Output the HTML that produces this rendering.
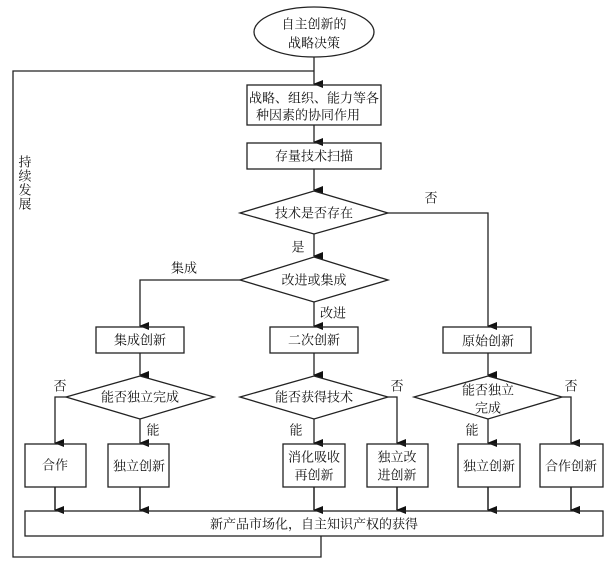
<!DOCTYPE html>
<html><head><meta charset="utf-8"><style>
html,body{margin:0;padding:0;background:#fff;}
svg{display:block;}
text{font-family:"Liberation Serif","Noto Serif CJK SC",serif;font-size:13px;fill:#111;text-anchor:middle;dominant-baseline:central;}
</style></head><body>
<svg width="607" height="564" viewBox="0 0 607 564" xmlns="http://www.w3.org/2000/svg">
<defs><marker id="a" markerWidth="8" markerHeight="10" refX="4" refY="9" orient="auto-start-reverse" markerUnits="userSpaceOnUse"><path d="M0,0 L8,0 L4,10 Z" fill="#111"/></marker></defs>
<g stroke="#222" stroke-width="1.3" fill="none">
<ellipse cx="314" cy="32" rx="60" ry="25" fill="#fff"/>
<path d="M314,57 V84" marker-end="url(#a)"/>
<path d="M314,71 H13 V557 H321 V536"/>
<rect x="247" y="85" width="134" height="40"/>
<path d="M314,125 V142" marker-end="url(#a)"/>
<rect x="247" y="143" width="134" height="26"/>
<path d="M314,169 V190" marker-end="url(#a)"/>
<polygon points="314,191 388,213 314,234 240,213"/>
<path d="M314,234 V256" marker-end="url(#a)"/>
<path d="M388,213 H488 V326" marker-end="url(#a)"/>
<polygon points="314,257 388,280 314,302 240,280"/>
<path d="M240,280 H140 V326" marker-end="url(#a)"/>
<path d="M314,302 V326" marker-end="url(#a)"/>
<rect x="96" y="327" width="88" height="26"/>
<rect x="270" y="327" width="88" height="26"/>
<rect x="443" y="327" width="88" height="26"/>
<path d="M140,353 V375" marker-end="url(#a)"/>
<path d="M314,353 V375" marker-end="url(#a)"/>
<path d="M488,353 V375" marker-end="url(#a)"/>
<polygon points="140,376 214,397 140,419 66,397"/>
<polygon points="314,376 388,397 314,419 240,397"/>
<polygon points="488,376 562,397 488,419 414,397"/>
<path d="M66,397 H55 V443" marker-end="url(#a)"/>
<path d="M140,419 V443" marker-end="url(#a)"/>
<path d="M314,419 V443" marker-end="url(#a)"/>
<path d="M388,397 H397 V443" marker-end="url(#a)"/>
<path d="M488,419 V443" marker-end="url(#a)"/>
<path d="M562,397 H571 V443" marker-end="url(#a)"/>
<rect x="25" y="444" width="61" height="43"/>
<rect x="108" y="444" width="61" height="43"/>
<rect x="283" y="444" width="62" height="43"/>
<rect x="367" y="444" width="61" height="43"/>
<rect x="458" y="444" width="62" height="43"/>
<rect x="540" y="444" width="63" height="43"/>
<path d="M55,487 V510 M140,487 V510 M314,487 V510 M397,487 V510 M488,487 V510 M571,487 V510" marker-end="url(#a)"/>
<path d="M55,487 V510" marker-end="url(#a)"/><path d="M140,487 V510" marker-end="url(#a)"/><path d="M314,487 V510" marker-end="url(#a)"/><path d="M397,487 V510" marker-end="url(#a)"/><path d="M488,487 V510" marker-end="url(#a)"/><path d="M571,487 V510" marker-end="url(#a)"/>
<rect x="25" y="511" width="578" height="25"/>
</g>
<text x="314" y="24">自主创新的</text>
<text x="314" y="43">战略决策</text>
<text x="314" y="98">战略、组织、能力等各</text>
<text x="308" y="115">种因素的协同作用</text>
<text x="314" y="156">存量技术扫描</text>
<text x="314" y="213">技术是否存在</text>
<text x="431" y="198">否</text>
<text x="298" y="247">是</text>
<text x="314" y="280">改进或集成</text>
<text x="184" y="268">集成</text>
<text x="333" y="313">改进</text>
<text x="140" y="340">集成创新</text>
<text x="314" y="340">二次创新</text>
<text x="488" y="341">原始创新</text>
<text x="140" y="397">能否独立完成</text>
<text x="314" y="397">能否获得技术</text>
<text x="488" y="390">能否独立</text>
<text x="488" y="408">完成</text>
<text x="60" y="386">否</text>
<text x="397" y="386">否</text>
<text x="571" y="386">否</text>
<text x="153" y="430">能</text>
<text x="296" y="430">能</text>
<text x="472" y="430">能</text>
<text x="55" y="465">合作</text>
<text x="139" y="466">独立创新</text>
<text x="314" y="457">消化吸收</text>
<text x="314" y="475">再创新</text>
<text x="397" y="457">独立改</text>
<text x="397" y="475">进创新</text>
<text x="489" y="466">独立创新</text>
<text x="571" y="466">合作创新</text>
<text x="314" y="524">新产品市场化，自主知识产权的获得</text>
<text x="25" y="162">持</text>
<text x="25" y="176">续</text>
<text x="25" y="190">发</text>
<text x="25" y="204">展</text>
</svg>
</body></html>
